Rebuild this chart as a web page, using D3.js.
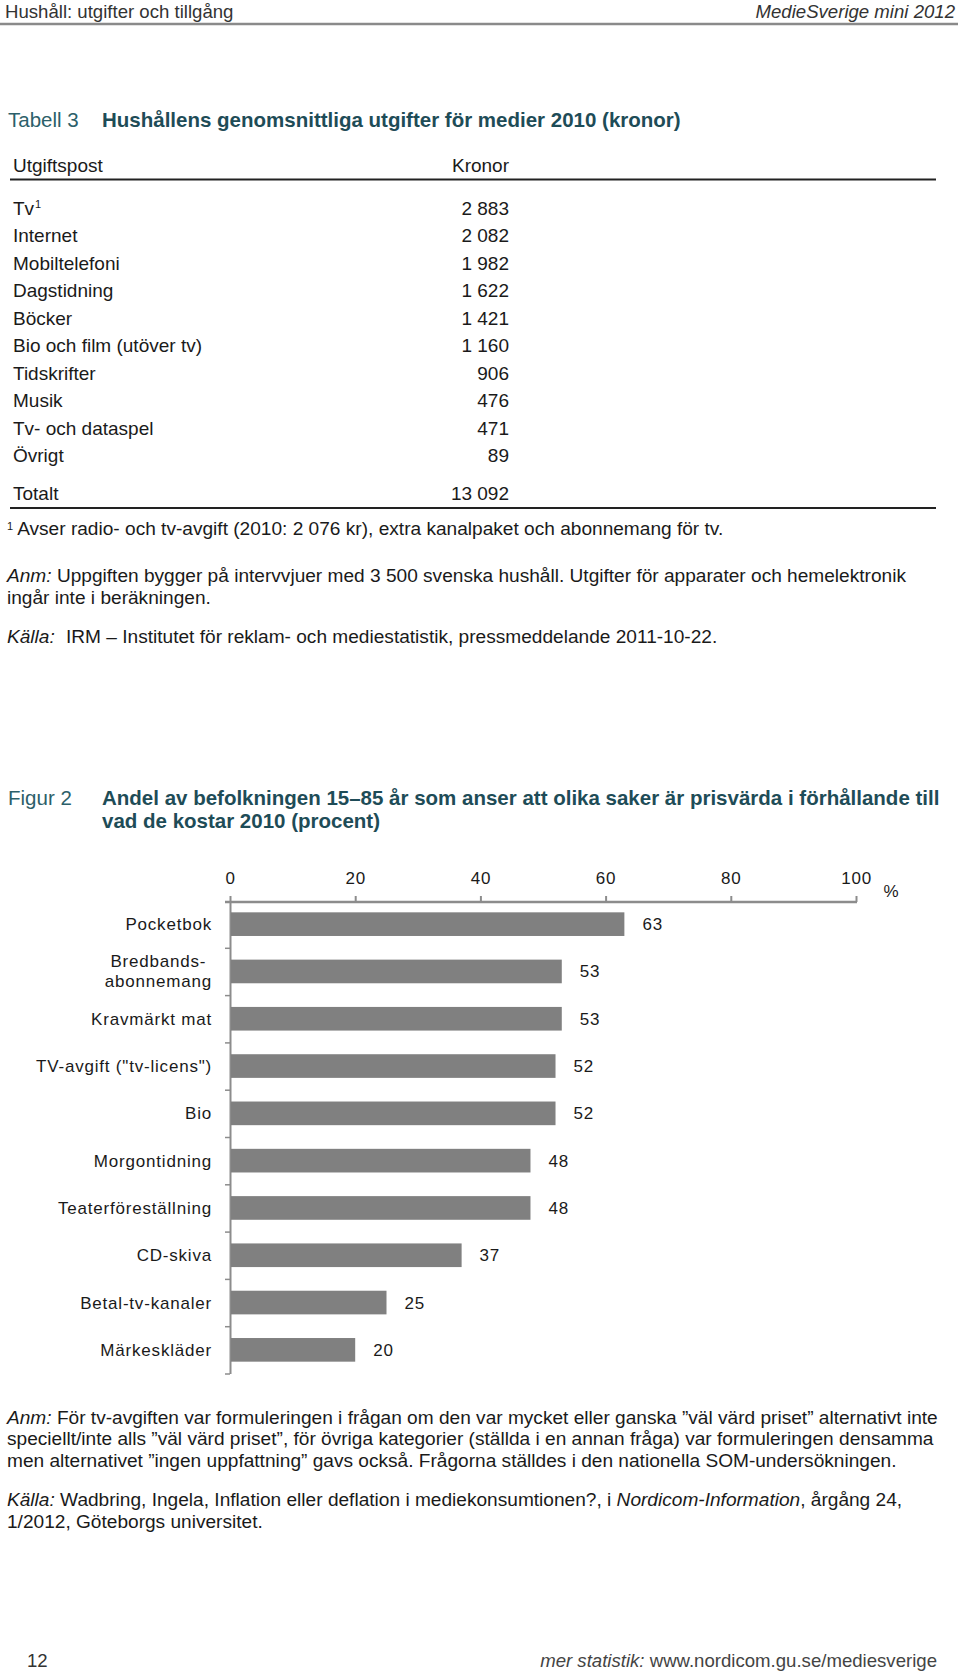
<!DOCTYPE html>
<html>
<head>
<meta charset="utf-8">
<script src="https://cdn.jsdelivr.net/npm/d3@7"></script>
<style>
  html, body { margin: 0; padding: 0; background: #fff; }
  svg { display: block; font-family: "Liberation Sans", Arial, Helvetica, sans-serif; }
</style>
</head>
<body>
<svg id="page" width="960" height="1673"></svg>
<script>
// ---------- DATA ----------
const tableItems = ["Tv", "Internet", "Mobiltelefoni", "Dagstidning", "Böcker", "Bio och film (utöver tv)", "Tidskrifter", "Musik", "Tv- och dataspel", "Övrigt"];
const tableValues = [2883, 2082, 1982, 1622, 1421, 1160, 906, 476, 471, 89];
const tableTotalLabel = "Totalt";
const tableTotal = 13092;

const categories = ["Pocketbok", "Bredbands-\nabonnemang", "Kravmärkt mat", "TV-avgift (\"tv-licens\")", "Bio", "Morgontidning", "Teaterföreställning", "CD-skiva", "Betal-tv-kanaler", "Märkeskläder"];
const values = [63, 53, 53, 52, 52, 48, 48, 37, 25, 20];
const xTicks = [0, 20, 40, 60, 80, 100];

// ---------- SETUP ----------
const svg = d3.select("#page");
const fmt = d3.formatLocale({decimal: ",", thousands: " ", grouping: [3], currency: ["", ""]}).format(",d");
const DARK = "#1a1a1a";
const NOTE = 19.1;

function txt(x, y, s, opts = {}) {
  const t = svg.append("text").attr("x", x).attr("y", y).attr("dy", "0.35em")
    .attr("font-size", opts.size || 18)
    .attr("fill", opts.fill || DARK)
    .attr("text-anchor", opts.anchor || "start");
  if (opts.weight) t.attr("font-weight", opts.weight);
  if (opts.italic) t.attr("font-style", "italic");
  if (opts.ls) t.attr("letter-spacing", opts.ls);
  if (s !== null) t.text(s);
  return t;
}

// ---------- PAGE HEADER ----------
txt(5, 11, "Hushåll: utgifter och tillgång", {size: 18.6, fill: "#333"});
txt(955, 11, "MedieSverige mini 2012", {size: 18.6, fill: "#333", anchor: "end", italic: true});
svg.append("line").attr("x1", 0).attr("x2", 958).attr("y1", 24).attr("y2", 24)
  .attr("stroke", "#8a8a8a").attr("stroke-width", 2.5);

// ---------- TABLE ----------
txt(8, 120, "Tabell 3", {size: 20.5, fill: "#2c5f6a"});
txt(102, 120, "Hushållens genomsnittliga utgifter för medier 2010 (kronor)", {size: 20.5, fill: "#1e4c57", weight: "bold"});

txt(13, 165, "Utgiftspost", {size: 19});
txt(509, 165, "Kronor", {size: 19, anchor: "end"});
svg.append("line").attr("x1", 10).attr("x2", 936).attr("y1", 179.5).attr("y2", 179.5).attr("stroke", "#222").attr("stroke-width", 2);

const rowY = d3.scalePoint().domain(d3.range(tableItems.length)).range([208, 455.5]);
tableItems.forEach((name, i) => {
  const t = txt(13, rowY(i), null, {size: 19});
  t.append("tspan").text(name);
  if (i === 0) t.append("tspan").attr("font-size", 11).attr("dy", "-0.6em").attr("dx", 1).text("1");
  txt(509, rowY(i), fmt(tableValues[i]), {size: 19, anchor: "end"});
});
txt(13, 493, tableTotalLabel, {size: 19});
txt(509, 493, fmt(tableTotal), {size: 19, anchor: "end"});
svg.append("line").attr("x1", 10).attr("x2", 936).attr("y1", 508).attr("y2", 508).attr("stroke", "#222").attr("stroke-width", 2);

// notes under table
{
  const t = txt(7, 533, null, {size: NOTE});
  t.append("tspan").attr("font-size", 11).attr("dy", "-0.3em").text("1");
  t.append("tspan").attr("dy", "0.3em").attr("dx", 4).text("Avser radio- och tv-avgift (2010: 2 076 kr), extra kanalpaket och abonnemang för tv.");
}
{
  const t = txt(7, 575, null, {size: NOTE});
  t.append("tspan").attr("font-style", "italic").text("Anm:");
  t.append("tspan").text(" Uppgiften bygger på intervvjuer med 3 500 svenska hushåll. Utgifter för apparater och hemelektronik");
  txt(7, 597, "ingår inte i beräkningen.", {size: NOTE});
}
{
  const t = txt(7, 636, null, {size: NOTE});
  t.append("tspan").attr("font-style", "italic").text("Källa:");
  t.append("tspan").attr("x", 66).text("IRM – Institutet för reklam- och mediestatistik, pressmeddelande 2011-10-22.");
}

// ---------- FIGURE ----------
txt(8, 798, "Figur 2", {size: 20.5, fill: "#2c5f6a"});
txt(102, 798, "Andel av befolkningen 15–85 år som anser att olika saker är prisvärda i förhållande till", {size: 20.5, fill: "#1e4c57", weight: "bold"});
txt(102, 821, "vad de kostar 2010 (procent)", {size: 20.5, fill: "#1e4c57", weight: "bold"});

const x = d3.scaleLinear().domain([0, 100]).range([230, 856]);
const y = d3.scaleBand().domain(categories).range([900.5, 1373.5]).paddingInner(0.5).paddingOuter(0.25);
const AX = "#8c8c8c";

// top axis
const gx = svg.append("g").attr("transform", "translate(0,902)")
  .call(d3.axisTop(x).tickValues(xTicks).tickSize(6).tickSizeOuter(0).tickPadding(10));
gx.select(".domain").attr("stroke", AX).attr("stroke-width", 2.5).attr("d", `M${x(0) - 5},0H${x(100) + 1}`);
gx.selectAll(".tick line").attr("stroke", AX).attr("stroke-width", 2);
gx.selectAll(".tick text").attr("font-size", 17).attr("letter-spacing", 0.8).attr("fill", DARK)
  .attr("font-family", "Liberation Sans, Arial, sans-serif").attr("dy", "-0.1em");
txt(891, 891, "%", {size: 17, anchor: "middle"});

// left axis with ticks between categories
const yb = d3.scaleLinear().domain([0, categories.length]).range(y.range());
const gy = svg.append("g").attr("transform", `translate(${x(0)},0)`)
  .call(d3.axisLeft(yb).tickValues(d3.range(1, categories.length + 1)).tickSize(5).tickSizeOuter(0).tickFormat(""));
gy.select(".domain").attr("stroke", AX).attr("stroke-width", 2);
gy.selectAll(".tick line").attr("stroke", AX).attr("stroke-width", 1.5);

// bars
svg.append("g").selectAll("rect").data(categories).join("rect")
  .attr("x", x(0) + 1)
  .attr("y", d => y(d))
  .attr("width", (d, i) => x(values[i]) - x(0) - 1)
  .attr("height", y.bandwidth())
  .attr("fill", "#808080");

// value labels
svg.append("g").selectAll("text").data(categories).join("text")
  .attr("x", (d, i) => x(values[i]) + 18)
  .attr("y", d => y(d) + y.bandwidth() / 2)
  .attr("dy", "0.35em")
  .attr("font-size", 17).attr("letter-spacing", 0.8).attr("fill", DARK)
  .text((d, i) => values[i]);

// category labels
const labelRight = 212;
categories.forEach(c => {
  const lines = c.split("\n");
  const cy = y(c) + y.bandwidth() / 2;
  if (lines.length === 1) {
    txt(labelRight, cy, c, {size: 17, anchor: "end", ls: 0.8});
  } else {
    const lh = 20;
    const ts = lines.map((l, k) => txt(labelRight, cy + (k - (lines.length - 1) / 2) * lh, l, {size: 17, anchor: "middle", ls: 0.8}));
    const w = d3.max(ts, t => t.node().getComputedTextLength());
    ts.forEach(t => t.attr("x", labelRight - w / 2));
  }
});

// ---------- NOTES UNDER FIGURE ----------
{
  const t = txt(7, 1417, null, {size: NOTE});
  t.append("tspan").attr("font-style", "italic").text("Anm:");
  t.append("tspan").text(" För tv-avgiften var formuleringen i frågan om den var mycket eller ganska ”väl värd priset” alternativt inte");
  txt(7, 1438.5, "speciellt/inte alls ”väl värd priset”, för övriga kategorier (ställda i en annan fråga) var formuleringen densamma", {size: NOTE});
  txt(7, 1460, "men alternativet ”ingen uppfattning” gavs också. Frågorna ställdes i den nationella SOM-undersökningen.", {size: NOTE});
}
{
  const t = txt(7, 1499, null, {size: NOTE});
  t.append("tspan").attr("font-style", "italic").text("Källa:");
  t.append("tspan").text(" Wadbring, Ingela, Inflation eller deflation i mediekonsumtionen?, i ");
  t.append("tspan").attr("font-style", "italic").text("Nordicom-Information");
  t.append("tspan").text(", årgång 24,");
  txt(7, 1521, "1/2012, Göteborgs universitet.", {size: NOTE});
}

// ---------- PAGE FOOTER ----------
txt(27, 1660, "12", {size: 18.6, fill: "#333"});
{
  const t = txt(937, 1660, null, {size: 18.6, fill: "#444", anchor: "end"});
  t.append("tspan").attr("font-style", "italic").text("mer statistik:");
  t.append("tspan").text(" www.nordicom.gu.se/mediesverige");
}
</script>
</body>
</html>
